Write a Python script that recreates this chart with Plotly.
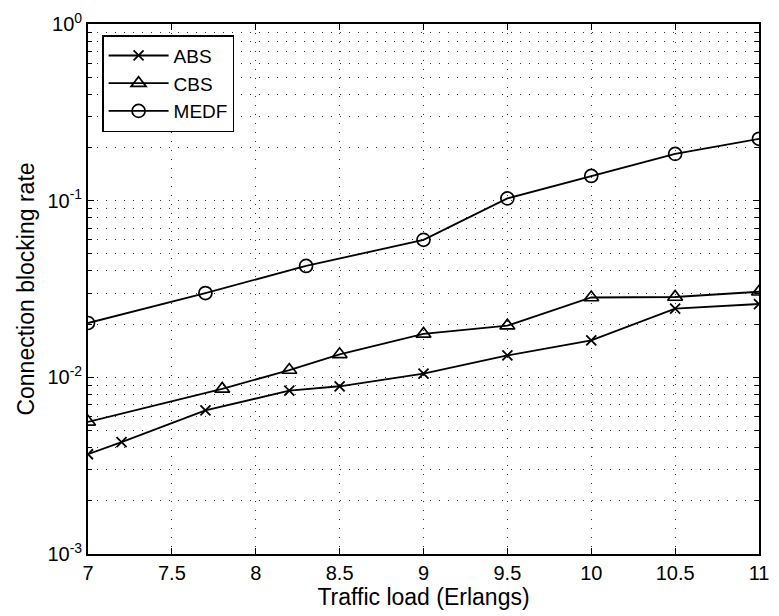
import plotly.graph_objects as go

# Blocking rate versus offered traffic for three allocation schemes
abs_load = [7, 7.2, 7.7, 8.2, 8.5, 9, 9.5, 10, 10.5, 11]
abs_rate = [0.00367, 0.0043, 0.0065, 0.0084, 0.0089, 0.0105, 0.0133, 0.0162, 0.0245, 0.026]

cbs_load = [7, 7.8, 8.2, 8.5, 9, 9.5, 10, 10.5, 11]
cbs_rate = [0.0056, 0.0086, 0.011, 0.0135, 0.0176, 0.0196, 0.0283, 0.0285, 0.0305]

medf_load = [7, 7.7, 8.3, 9, 9.5, 10, 10.5, 11]
medf_rate = [0.0203, 0.030, 0.0427, 0.060, 0.103, 0.138, 0.184, 0.224]

y_tickvals = [0.001, 0.01, 0.1, 1]
y_ticktext = ["10<sup>-3</sup>", "10<sup>-2</sup>", "10<sup>-1</sup>", "10<sup>0</sup>"]

FONT = "Liberation Sans, Arial, sans-serif"
LINE = dict(color="black", width=1.8)

fig = go.Figure()
fig.add_trace(go.Scatter(
    x=abs_load, y=abs_rate, name="ABS", mode="lines+markers",
    line=LINE, marker=dict(symbol="x-thin-open", size=10, color="black",
                           line=dict(color="black", width=1.8)),
))
fig.add_trace(go.Scatter(
    x=cbs_load, y=cbs_rate, name="CBS", mode="lines+markers",
    line=LINE, marker=dict(symbol="triangle-up-open", size=13, color="black",
                           line=dict(color="black", width=1.7)),
))
fig.add_trace(go.Scatter(
    x=medf_load, y=medf_rate, name="MEDF", mode="lines+markers",
    line=LINE, marker=dict(symbol="circle-open", size=13, color="black",
                           line=dict(color="black", width=1.7)),
))

grid = dict(showgrid=True, gridcolor="#333", gridwidth=1, griddash="1px,8px")

fig.update_layout(
    width=779, height=616,
    margin=dict(l=88, r=10, t=19, b=62),
    paper_bgcolor="white", plot_bgcolor="white",
    font=dict(family=FONT, size=20, color="black"),
    showlegend=True,
    legend=dict(
        x=0.021, y=0.979, xanchor="left", yanchor="top",
        bgcolor="white", bordercolor="black", borderwidth=1.5,
        font=dict(size=19, family=FONT), itemwidth=60,
        tracegroupgap=0,
    ),
    xaxis=dict(
        range=[7, 11], dtick=0.5, tick0=7,
        ticks="inside", ticklen=6, tickcolor="black",
        showline=True, linecolor="black", linewidth=1.8, mirror="ticks",
        zeroline=False,
        title=dict(text="Traffic load (Erlangs)", font=dict(size=23), standoff=2),
        tickfont=dict(size=20),
        **grid,
    ),
    yaxis=dict(
        type="log", range=[-3, 0],
        tickmode="array", tickvals=y_tickvals, ticktext=y_ticktext,
        ticks="inside", ticklen=6, tickcolor="black",
        showline=True, linecolor="black", linewidth=1.8, mirror="ticks",
        zeroline=False,
        title=dict(text="Connection blocking rate", font=dict(size=23), standoff=6),
        tickfont=dict(size=20),
        minor=dict(dtick="D1", ticks="inside", ticklen=4, tickcolor="black",
                   showgrid=True, gridcolor="#333", gridwidth=1, griddash="1px,8px"),
        **grid,
    ),
)

fig.write_html("out.html")
